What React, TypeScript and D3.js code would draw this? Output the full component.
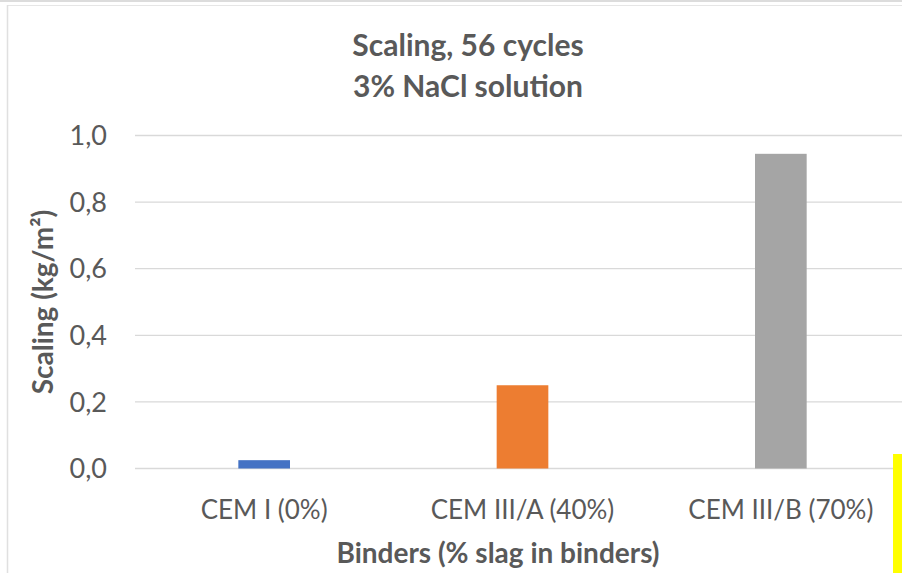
import React from "react";
import * as d3 from "d3";

const categories = ["CEM I (0%)", "CEM III/A (40%)", "CEM III/B (70%)"];
const values = [0.025, 0.25, 0.945];
const colors = ["#4472C4", "#ED7D31", "#A5A5A5"];
const yTicks = [0, 0.2, 0.4, 0.6, 0.8, 1.0];
const titleLines = ["Scaling, 56 cycles", "3% NaCl solution"];
const yTitle = "Scaling (kg/m²)";
const xTitle = "Binders (% slag in binders)";

const W = 902;
const H = 573;
const FONT = "Lato, 'Open Sans', sans-serif";

export default function App() {
  const x = d3.scaleBand<string>().domain(categories).range([135, 910]).paddingInner(0.8).paddingOuter(0.4);
  const y = d3.scaleLinear().domain([0, 1]).range([468.5, 135.5]);
  const fmt = (v: number) => d3.format(".1f")(v).replace(".", ",");
  return (
    <div style={{ position: "fixed", left: 0, top: 0 }}>
      <svg width={W} height={H} style={{ display: "block", background: "#fff" }}>
        <rect x={0} y={0} width={W} height={2} fill="#dcdcdc" />
        <line x1={7} x2={W} y1={5.5} y2={5.5} stroke="#e6e6e6" strokeWidth={1} />
        <line x1={7.5} x2={7.5} y1={5} y2={H} stroke="#e0e0e0" strokeWidth={1.5} />
        {titleLines.map((t, i) => (
          <text key={t} x={468} y={56 + i * 41} textAnchor="middle" fontFamily={FONT} fontWeight={700} fontSize={30} fill="#595959">
            {t}
          </text>
        ))}
        {yTicks.map((t) => (
          <g key={t}>
            <line x1={135} x2={910} y1={y(t)} y2={y(t)} stroke="#d9d9d9" strokeWidth={1.3} />
            <text x={107} y={y(t)} dy="0.36em" textAnchor="end" fontFamily={FONT} fontSize={27} fill="#595959">
              {fmt(t)}
            </text>
          </g>
        ))}
        {categories.map((c, i) => (
          <rect key={c} x={x(c)} y={y(values[i])} width={x.bandwidth()} height={y(0) - y(values[i])} fill={colors[i]} />
        ))}
        {categories.map((c) => (
          <text key={c} x={(x(c) as number) + x.bandwidth() / 2} y={519} textAnchor="middle" fontFamily={FONT} fontSize={26} fill="#595959">
            {c}
          </text>
        ))}
        <text x={498} y={563} textAnchor="middle" fontFamily={FONT} fontWeight={700} fontSize={28} fill="#595959">
          {xTitle}
        </text>
        <text transform="translate(53,302) rotate(-90)" textAnchor="middle" fontFamily={FONT} fontWeight={700} fontSize={28} fill="#595959">
          {yTitle}
        </text>
        <rect x={893} y={454} width={9} height={H - 454} fill="#FFFF00" />
      </svg>
    </div>
  );
}
